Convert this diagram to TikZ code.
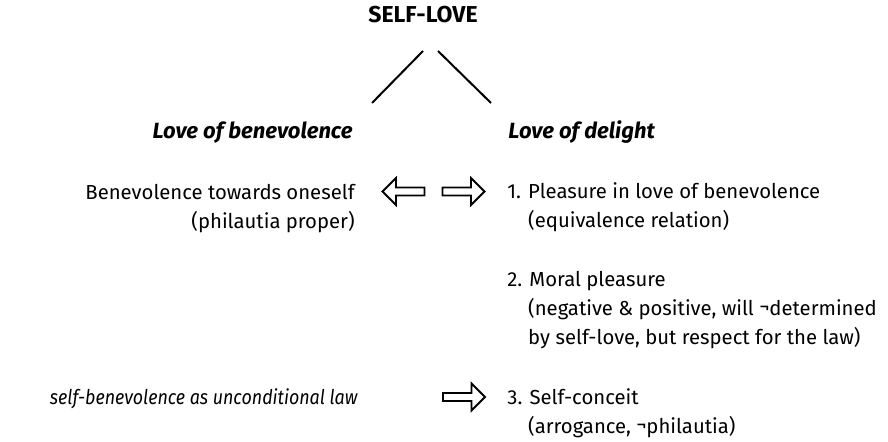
\documentclass[tikz,border=0pt]{standalone}
\usepackage{fontspec}
\setmainfont{Fira Sans}
\newfontfamily\narrowItalic{Fira Sans}[FakeStretch=0.88]
\usetikzlibrary{shapes.arrows}

\def \bodyFont {\fontsize{10.15pt}{14.6pt}\selectfont}
\def \numIndent {\hphantom{1. }}
\def \negSign {\raisebox{1.2pt}{¬}}

\begin{document}
\begin{tikzpicture}[x=0.5pt, y=-0.5pt,
      txt/.style={font=\bodyFont, inner sep=0pt},
      head/.style={font=\fontsize{11pt}{14pt}\selectfont\bfseries\itshape, inner sep=0pt},
      hollow/.style={single arrow, draw, line width=0.9pt, inner sep=0pt,
         text height=3.1pt, text depth=0pt, minimum height=21pt,
         single arrow head extend=4.75pt}]
      \useasboundingbox (0, 0) rectangle (888, 442);

      \node[font=\fontsize{11.5pt}{14pt}\selectfont\bfseries, inner sep=0pt, anchor=base] (selflove) at (423, 23) {SELF-LOVE};
      \coordinate (forkL) at (423, 51);
      \coordinate (forkR) at (438, 51);
      \coordinate (legL) at (372, 103);
      \coordinate (legR) at (491, 103);
      \draw[line width=1pt] (forkL) -- (legL);
      \draw[line width=1pt] (forkR) -- (legR);

      \node[head, anchor=base east] (benevolence) at (353, 139) {Love of benevolence};
      \node[head, anchor=base west] (delight) at (508, 139) {Love of delight};

      % left column (base = last line)
      \node[txt, align=right, anchor=base east] (towards) at (355, 229) {Benevolence towards oneself\\(philautia proper)};
      \node[txt, anchor=base east, font=\bodyFont\narrowItalic\itshape] (uncond) at (358, 405) {self-benevolence as unconditional law};

      % right column (base = last line)
      \node[txt, align=left, anchor=base west] (pleasure) at (507, 228) {1. Pleasure in love of benevolence\\\numIndent(equivalence relation)};
      \node[txt, align=left, anchor=base west] (moral) at (507, 345) {2. Moral pleasure\\\numIndent(negative \& positive, will \negSign determined\\\numIndent by self-love, but respect for the law)};
      \node[txt, align=left, anchor=base west] (conceit) at (507, 434) {3. Self-conceit\\\numIndent(arrogance, \negSign philautia)};

      % hollow arrows
      \node[hollow, shape border rotate=180] (toLeft) at (405.5, 191.5) {};
      \node[hollow] (toRight) at (461.5, 191.5) {};
      \node[hollow] (toConceit) at (462, 397) {};
   \end{tikzpicture}
\end{document}
